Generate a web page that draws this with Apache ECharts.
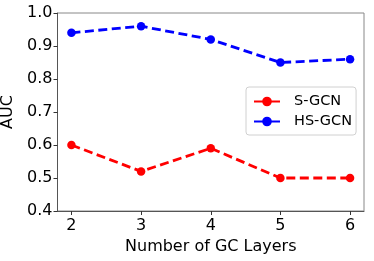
<!DOCTYPE html>
<html><head><meta charset="utf-8">
<script src="https://cdn.jsdelivr.net/npm/echarts@6/dist/echarts.min.js"></script>
<style>html,body{margin:0;padding:0;background:#fff}#c{width:374px;height:261px}</style>
</head><body><div id="c"></div>
<script>
const layers = [2, 3, 4, 5, 6];
const sgcn = [0.60, 0.52, 0.59, 0.50, 0.50];
const hsgcn = [0.94, 0.96, 0.92, 0.85, 0.86];
const seriesNames = ['S-GCN', 'HS-GCN'];
const font = 'DejaVu Sans';
const chart = echarts.init(document.getElementById('c'), null, {renderer: 'canvas'});
function mk(name, vals, color) {
  return {
    name: name, type: 'line',
    data: layers.map((x, i) => [x, vals[i]]),
    symbol: 'circle', symbolSize: 8.5,
    itemStyle: {color: color},
    lineStyle: {color: color, width: 2.8, type: [9, 4.5]},
    z: 5
  };
}
chart.setOption({
  animation: false,
  grid: {left: 57.5, right: 10, top: 13, bottom: 50, outerBoundsMode: 'none', containLabel: false,
         show: true, borderColor: '#888', borderWidth: 1, backgroundColor: 'transparent'},
  legend: {
    orient: 'vertical', left: 246, top: 87,
    padding: [7, 4, 6, 7], itemGap: 5, itemWidth: 26, itemHeight: 12,
    borderColor: '#d0d0d0', borderWidth: 1, borderRadius: 3,
    textStyle: {fontFamily: font, fontSize: 14.5, color: '#000', padding: [0, 0, 0, 9]},
    lineStyle: {type: 'solid'},
    data: seriesNames
  },
  xAxis: {
    type: 'value', min: 1.8, max: 6.2,
    name: 'Number of GC Layers', nameLocation: 'middle', nameGap: 27,
    nameTextStyle: {fontFamily: font, fontSize: 16, color: '#000'},
    axisLine: {show: true, lineStyle: {color: '#555', width: 1}},
    axisTick: {show: true, length: 4, lineStyle: {color: '#333'}, customValues: layers},
    axisLabel: {fontFamily: font, fontSize: 16, color: '#000', margin: 7, customValues: layers},
    splitLine: {show: false}
  },
  yAxis: {
    type: 'value', min: 0.4, max: 1.0, interval: 0.1,
    name: 'AUC', nameLocation: 'middle', nameGap: 38, nameRotate: 90,
    nameTextStyle: {fontFamily: font, fontSize: 16, color: '#000'},
    axisLine: {show: true, lineStyle: {color: '#555', width: 1}},
    axisTick: {show: true, length: 4, lineStyle: {color: '#333'}},
    axisLabel: {fontFamily: font, fontSize: 16, color: '#000', margin: 5, formatter: v => v.toFixed(1)},
    splitLine: {show: false}
  },
  series: [mk(seriesNames[0], sgcn, '#ff0000'), mk(seriesNames[1], hsgcn, '#0000ff')]
});
</script></body></html>
